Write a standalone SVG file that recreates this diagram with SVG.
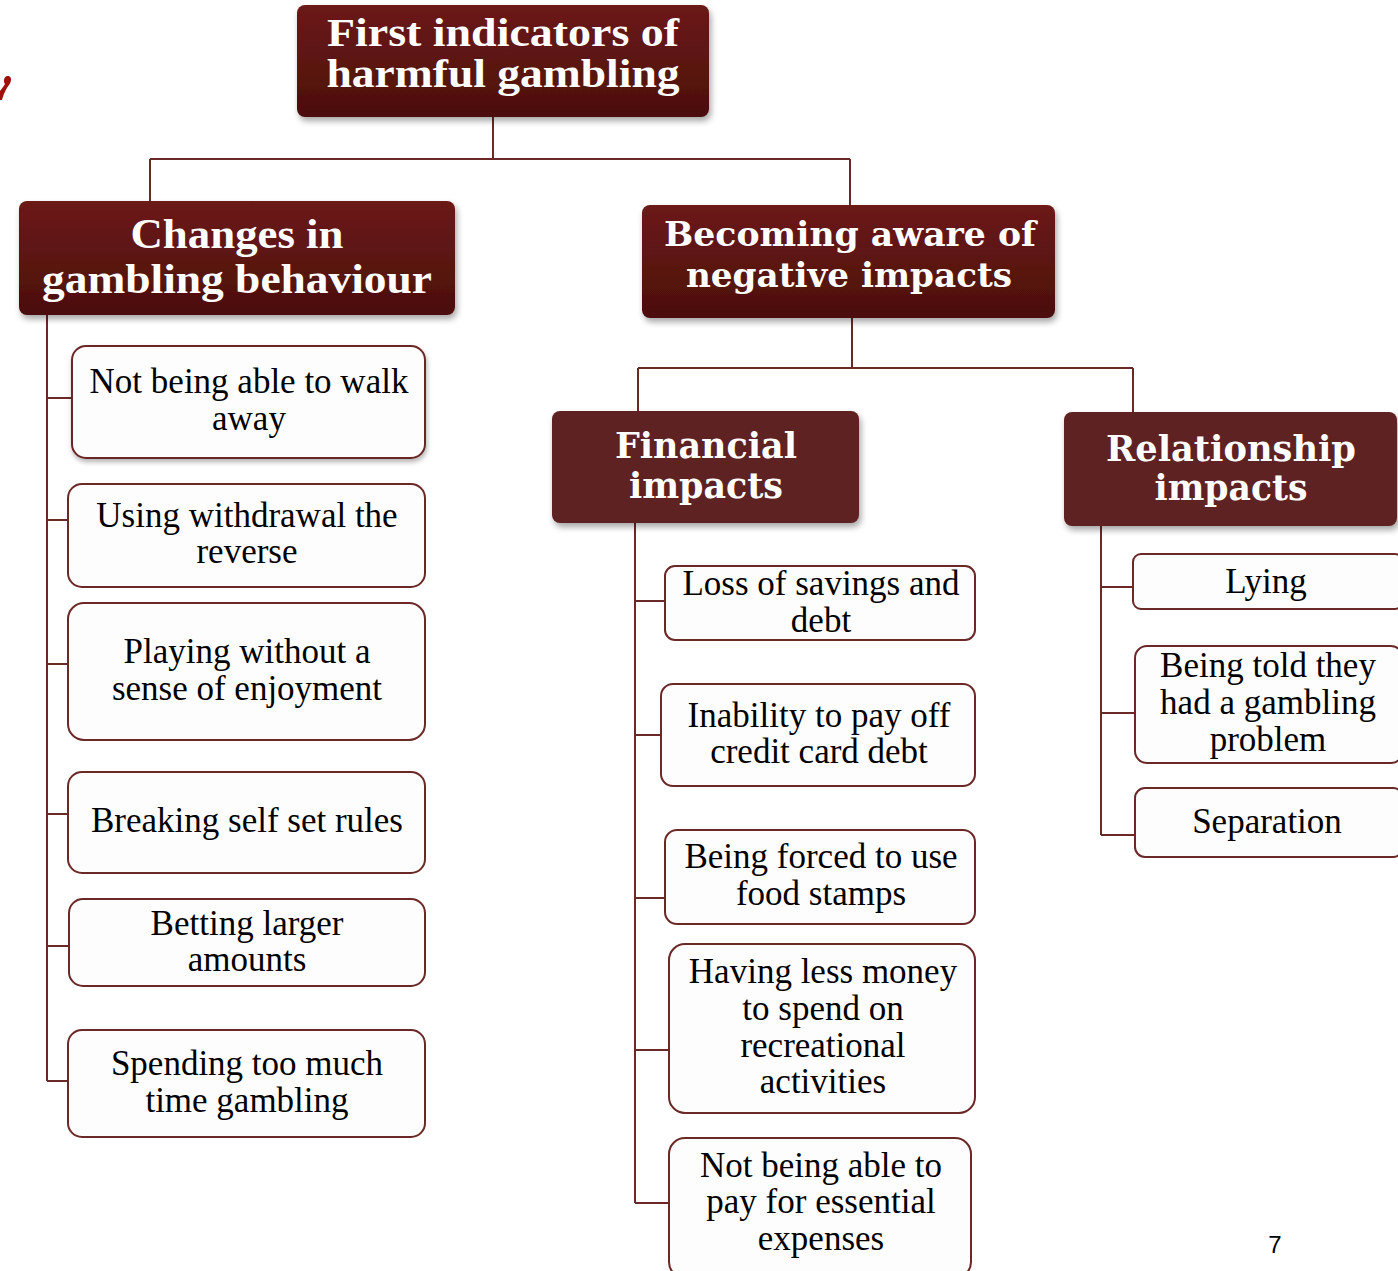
<svg xmlns="http://www.w3.org/2000/svg" width="1398" height="1271" viewBox="0 0 1398 1271">
<defs>
<linearGradient id="hg" x1="0" y1="0" x2="0" y2="1">
<stop offset="0" stop-color="#6c1a16"/>
<stop offset="1" stop-color="#4b0f0d"/>
</linearGradient>
<filter id="sh" x="-10%" y="-10%" width="120%" height="130%">
<feDropShadow dx="2" dy="4" stdDeviation="3" flood-color="#000" flood-opacity="0.35"/>
</filter>
<filter id="sh2" x="-10%" y="-10%" width="120%" height="130%">
<feDropShadow dx="1" dy="3" stdDeviation="2.5" flood-color="#000" flood-opacity="0.3"/>
</filter>
</defs>
<style>
.hg{fill:url(#hg);filter:url(#sh)}
.hf{fill:#5f2220;filter:url(#sh)}
.ht{font-family:"Liberation Serif",serif;font-weight:bold;fill:#fff;text-anchor:middle}
.hd{font-family:"DejaVu Serif",serif;font-weight:bold;fill:#fff;text-anchor:middle}
.cb{fill:#fdfdfd;stroke:#6a2826;stroke-width:2}
.ct{font-family:"Liberation Serif",serif;font-size:35px;fill:#000;text-anchor:middle}
.ln{stroke:#6a2826;stroke-width:2;fill:none}
</style>
<rect width="1398" height="1271" fill="#fff"/>
<path d="M7,76 C12,75 12,81 9,85 C6,89 4,93 2,100 L0,100 L0,91 C2,88 4,86 5,84 C3,81 4,77 7,76 Z" fill="#a0100c"/>
<g id="connectors">
<path class="ln" d="M493,117 V159 M150,159 H850 M150,159 V201 M850,159 V205"/>
<path class="ln" d="M852,318 V368 M638,368 H1133 M638,368 V411 M1133,368 V412"/>
<path class="ln" d="M47,315 V1081 M47,398 H72 M47,520 H68 M47,664 H68 M47,814 H68 M47,946 H69 M47,1081 H68"/>
<path class="ln" d="M635,523 V1203 M635,601 H665 M635,735 H661 M635,898 H665 M635,1050 H669 M635,1203 H669"/>
<path class="ln" d="M1101,526 V835 M1101,587 H1133 M1101,713 H1135 M1101,835 H1135"/>
</g>
<g id="root">
<rect class="hg" x="297" y="5" width="412" height="112" rx="8"/>
<text class="ht" font-size="39" x="503" y="46" textLength="352" lengthAdjust="spacingAndGlyphs">First indicators of</text>
<text class="ht" font-size="39" x="503" y="87" textLength="353" lengthAdjust="spacingAndGlyphs">harmful gambling</text>
</g>
<g id="changes">
<rect class="hg" x="19" y="201" width="436" height="114" rx="8"/>
<text class="ht" font-size="43" x="237" y="248" textLength="213" lengthAdjust="spacingAndGlyphs">Changes in</text>
<text class="ht" font-size="43" x="237" y="293" textLength="390" lengthAdjust="spacingAndGlyphs">gambling behaviour</text>
</g>
<g id="becoming">
<rect class="hg" x="642" y="205" width="413" height="113" rx="8"/>
<text class="hd" font-size="33" x="850" y="246" textLength="372" lengthAdjust="spacingAndGlyphs">Becoming aware of</text>
<text class="hd" font-size="33" x="849" y="287" textLength="326" lengthAdjust="spacingAndGlyphs">negative impacts</text>
</g>
<g id="financial">
<rect class="hf" x="552" y="411" width="307" height="112" rx="8"/>
<text class="hd" font-size="35" x="706" y="458" textLength="182" lengthAdjust="spacingAndGlyphs">Financial</text>
<text class="hd" font-size="35" x="706" y="498" textLength="154" lengthAdjust="spacingAndGlyphs">impacts</text>
</g>
<g id="relationship">
<rect class="hf" x="1064" y="412" width="333" height="114" rx="8"/>
<text class="hd" font-size="35" x="1231" y="461" textLength="250" lengthAdjust="spacingAndGlyphs">Relationship</text>
<text class="hd" font-size="35" x="1231" y="500" textLength="153" lengthAdjust="spacingAndGlyphs">impacts</text>
</g>
<g id="c1">
<rect class="cb" x="72" y="346" width="353" height="112" rx="14" filter="url(#sh2)"/>
<text class="ct" x="249" y="393">Not being able to walk</text>
<text class="ct" x="249" y="430">away</text>
</g>
<g id="c2">
<rect class="cb" x="68" y="484" width="357" height="103" rx="14"/>
<text class="ct" x="247" y="527">Using withdrawal the</text>
<text class="ct" x="247" y="563">reverse</text>
</g>
<g id="c3">
<rect class="cb" x="68" y="603" width="357" height="137" rx="16"/>
<text class="ct" x="247" y="663">Playing without a</text>
<text class="ct" x="247" y="700">sense of enjoyment</text>
</g>
<g id="c4">
<rect class="cb" x="68" y="772" width="357" height="101" rx="14"/>
<text class="ct" x="247" y="832">Breaking self set rules</text>
</g>
<g id="c5">
<rect class="cb" x="69" y="899" width="356" height="87" rx="14"/>
<text class="ct" x="247" y="935">Betting larger</text>
<text class="ct" x="247" y="971">amounts</text>
</g>
<g id="c6">
<rect class="cb" x="68" y="1030" width="357" height="107" rx="14"/>
<text class="ct" x="247" y="1075">Spending too much</text>
<text class="ct" x="247" y="1112">time gambling</text>
</g>
<g id="f1">
<rect class="cb" x="665" y="566" width="310" height="74" rx="10"/>
<text class="ct" x="821" y="595">Loss of savings and</text>
<text class="ct" x="821" y="632">debt</text>
</g>
<g id="f2">
<rect class="cb" x="661" y="684" width="314" height="102" rx="12"/>
<text class="ct" x="819" y="727">Inability to pay off</text>
<text class="ct" x="819" y="763">credit card debt</text>
</g>
<g id="f3">
<rect class="cb" x="665" y="830" width="310" height="94" rx="12"/>
<text class="ct" x="821" y="868">Being forced to use</text>
<text class="ct" x="821" y="905">food stamps</text>
</g>
<g id="f4">
<rect class="cb" x="669" y="944" width="306" height="169" rx="16"/>
<text class="ct" x="823" y="983">Having less money</text>
<text class="ct" x="823" y="1020">to spend on</text>
<text class="ct" x="823" y="1057">recreational</text>
<text class="ct" x="823" y="1093">activities</text>
</g>
<g id="f5">
<rect class="cb" x="669" y="1138" width="302" height="140" rx="16"/>
<text class="ct" x="821" y="1177">Not being able to</text>
<text class="ct" x="821" y="1213">pay for essential</text>
<text class="ct" x="821" y="1250">expenses</text>
</g>
<g id="r1">
<rect class="cb" x="1133" y="554" width="270" height="55" rx="8"/>
<text class="ct" x="1266" y="593">Lying</text>
</g>
<g id="r2">
<rect class="cb" x="1135" y="646" width="268" height="117" rx="12"/>
<text class="ct" x="1268" y="677">Being told they</text>
<text class="ct" x="1268" y="714">had a gambling</text>
<text class="ct" x="1268" y="751">problem</text>
</g>
<g id="r3">
<rect class="cb" x="1135" y="788" width="268" height="69" rx="10"/>
<text class="ct" x="1267" y="833">Separation</text>
</g>
<text x="1275" y="1253" font-family="Liberation Sans, sans-serif" font-size="24" fill="#000" text-anchor="middle">7</text>
</svg>
